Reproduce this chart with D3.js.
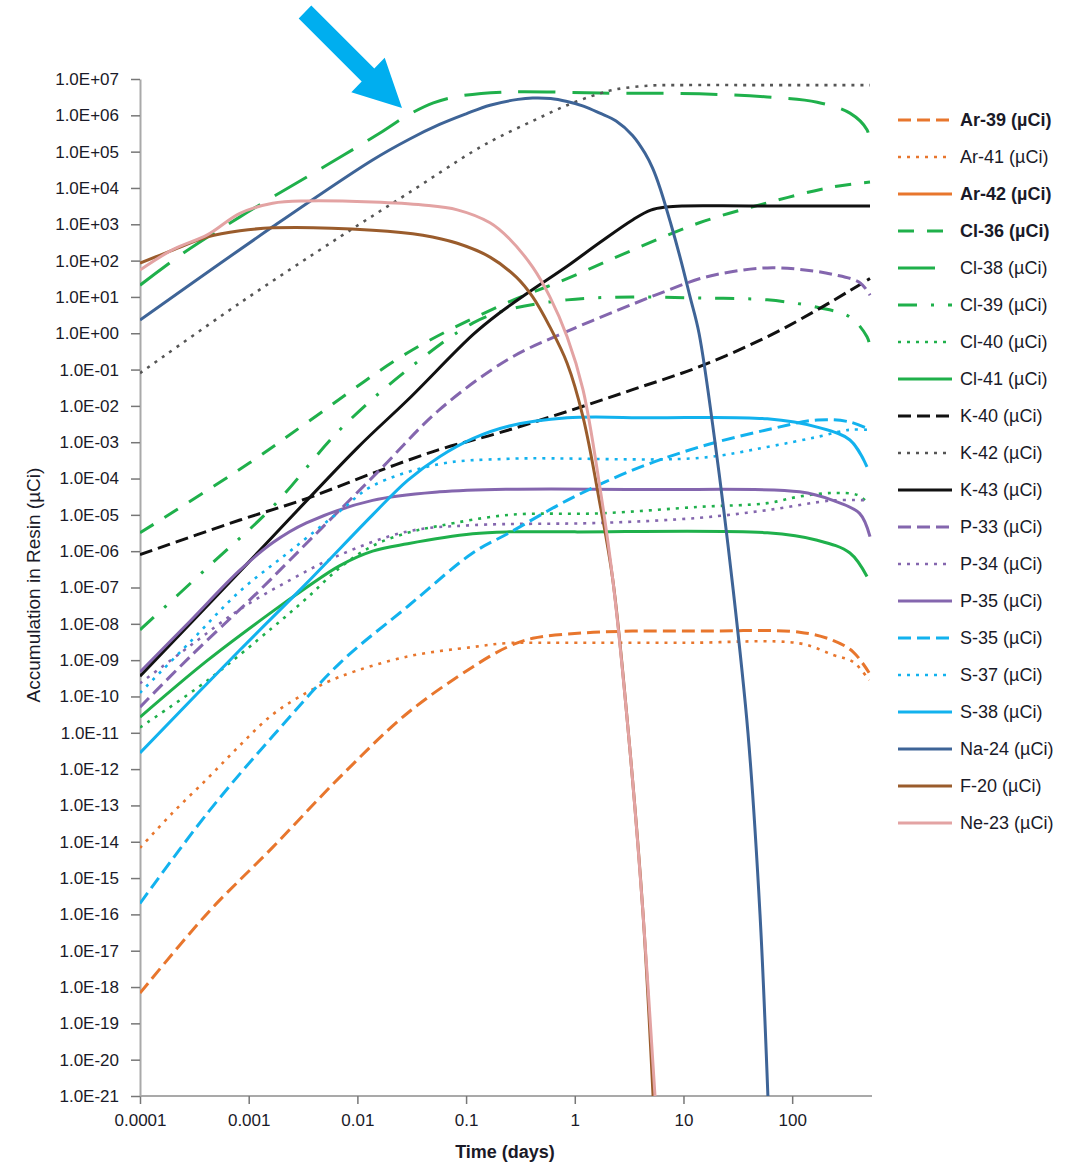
<!DOCTYPE html>
<html>
<head>
<meta charset="utf-8">
<script src="https://cdn.jsdelivr.net/npm/d3@7"></script>
<style>
body { margin: 0; background: #fff; }
text { font-family: "Liberation Sans", Arial, sans-serif; }
</style>
</head>
<body>
<svg id="chart" width="1074" height="1165"></svg>
<script>
// series names, in legend / drawing order
var names = ["Ar-39 (µCi)", "Ar-41 (µCi)", "Ar-42 (µCi)", "Cl-36 (µCi)", "Cl-38 (µCi)",
             "Cl-39 (µCi)", "Cl-40 (µCi)", "Cl-41 (µCi)", "K-40 (µCi)", "K-42 (µCi)",
             "K-43 (µCi)", "P-33 (µCi)", "P-34 (µCi)", "P-35 (µCi)", "S-35 (µCi)",
             "S-37 (µCi)", "S-38 (µCi)", "Na-24 (µCi)", "F-20 (µCi)", "Ne-23 (µCi)"];

// [time (days), accumulation (µCi)]
var ar39 = [[1e-4,6.8e-19],[4.2e-4,1.1e-16],[1.66e-3,7e-15],[6.9e-3,6e-13],[0.029,3.5e-11],[0.115,6.5e-10],
            [0.24,2.3e-9],[0.41,4e-9],[1.19,5.6e-9],[3.4,6.3e-9],[14,6.3e-9],[117,5.9e-9],[237,3.5e-9],[363,1.7e-9],[510,4.5e-10]];
var ar41 = [[1e-4,6.8e-15],[2e-4,6.3e-14],[4.2e-4,5.6e-13],[8.3e-4,4.5e-12],[1.66e-3,3.2e-11],[3.4e-3,1.26e-10],
            [6.9e-3,3.5e-10],[0.029,1.26e-9],[0.115,2.3e-9],[0.24,2.95e-9],[0.59,3e-9],[10,3e-9],[117,2.9e-9],[237,1.4e-9],[363,9e-10],[510,2.8e-10]];
var ar42 = [];
var cl36 = [[1e-4,3.2e-6],[1.02e-3,2.7e-4],[3.4e-3,3.4e-3],[0.029,0.29],[0.2,5.5],[0.85,32],[3.4,195],
            [14,1100],[59,3900],[237,1.07e4],[520,1.45e4]];
var cl38 = [[1e-4,21],[2.5e-4,160],[8.3e-4,1600],[1.66e-3,5600],[5.2e-3,4.2e4],[0.016,3.2e5],[0.029,1.0e6],
            [0.05,2.2e6],[0.083,3.3e6],[0.24,4.4e6],[1.7,4.1e6],[14,3.9e6],[59,3.2e6],[170,2.3e6],[340,1.15e6],[488,4e5],[520,1.7e5]];
var cl39 = [[1e-4,6.8e-9],[4.2e-4,3.6e-7],[1.66e-3,1.66e-5],[6.9e-3,2.2e-3],[0.029,0.1],[0.115,1.9],[0.24,4.4],
            [0.85,8.3],[3.4,10],[14,9.3],[59,8.3],[170,5.2],[340,2.8],[488,0.8],[520,0.42]];
var cl40 = [[1e-4,1.4e-11],[4.2e-4,2.8e-10],[1.66e-3,7.9e-9],[3.4e-3,5e-8],[6.9e-3,3.5e-7],[0.0138,1.4e-6],
            [0.029,3.2e-6],[0.057,5e-6],[0.25,1e-5],[1.7,1.1e-5],[14,1.66e-5],[59,2.1e-5],[117,3.2e-5],[237,4e-5],[400,3.5e-5],[500,2.1e-5]];
var cl41 = [[1e-4,2.7e-11],[4.2e-4,1e-9],[1.66e-3,2.2e-8],[3.4e-3,1e-7],[6.9e-3,4e-7],[0.0138,1e-6],[0.029,1.6e-6],
            [0.115,3e-6],[0.25,3.4e-6],[1,3.4e-6],[59,3.2e-6],[170,2e-6],[340,8.9e-7],[488,2e-7]];
var k40  = [[1e-4,8e-7],[8.3e-4,7.2e-6],[3.4e-3,2.8e-5],[0.0138,1.4e-4],[0.057,6.3e-4],[0.2,1.8e-3],[0.85,7e-3],
            [3.4,0.028],[14,0.12],[59,0.8],[170,4.4],[340,15],[520,32]];
var k42  = [[1e-4,0.08],[8.3e-4,6.8],[6.9e-3,450],[0.029,7e3],[0.115,1e5],[0.2,2.5e5],[0.41,7e5],[0.85,1.9e6],
            [1.7,4e6],[2.4,5.2e6],[5,6.6e6],[10,6.8e6],[40,6.8e6],[520,6.8e6]];
var k43  = [[1e-4,3.6e-10],[1e-3,5e-7],[0.01,7e-4],[0.029,0.0145],[0.115,0.9],[0.2,3.5],[0.41,16],[0.85,70],
            [1.7,316],[3.4,1320],[5,2450],[7,3000],[10,3200],[40,3200],[520,3200]];
var p33  = [[1e-4,5.1e-11],[2.9e-4,1.26e-9],[8.3e-4,2.5e-8],[1.27e-3,8.5e-8],[4.5e-3,3.8e-6],[0.016,1.7e-4],
            [0.057,7.9e-3],[0.25,0.2],[0.85,1.12],[3.4,6.3],[7,14.8],[14,31.6],[28.5,50],[59,63],[117,57.5],[237,41.7],[417,25],[520,11.2]];
var p34  = [[1e-4,2.3e-10],[2.9e-4,2.5e-9],[8.3e-4,2.5e-8],[2.4e-3,1.6e-7],[6.9e-3,7.9e-7],[0.029,3.5e-6],
            [0.115,5.2e-6],[1.7,6e-6],[14,8.3e-6],[59,1.35e-5],[237,2.5e-5],[510,2.5e-5]];
var p35  = [[1e-4,4.7e-10],[2.9e-4,1.2e-8],[8.3e-4,3e-7],[1.66e-3,1.7e-6],[3.4e-3,6e-6],[0.0138,2.5e-5],
            [0.057,4.3e-5],[0.25,5.1e-5],[5,5e-5],[117,4.3e-5],[237,2.5e-5],[417,1.1e-5],[520,2.5e-6]];
var s35  = [[1e-4,2e-16],[4.2e-4,6.3e-14],[1.66e-3,8e-12],[6.9e-3,8.3e-10],[0.029,3e-8],[0.115,8.9e-7],
            [0.25,3.2e-6],[0.85,2.5e-5],[3.4,1.7e-4],[14,7.4e-4],[59,2.2e-3],[170,4.1e-3],[340,3.6e-3],[520,2.2e-3]];
var s37  = [[1e-4,1.26e-10],[2.9e-4,3.2e-9],[8.3e-4,7.9e-8],[2.4e-3,1e-6],[6.9e-3,1.26e-5],[0.0138,6.3e-5],
            [0.057,2.5e-4],[0.25,3.5e-4],[14,3.7e-4],[59,7.4e-4],[170,1.4e-3],[340,2.2e-3],[500,2.2e-3]];
var s38  = [[1e-4,2.8e-12],[8.3e-4,1.9e-9],[3.4e-3,1.3e-7],[0.0138,1e-5],[0.029,8.9e-5],[0.057,4e-4],
            [0.115,1.26e-3],[0.25,2.8e-3],[0.85,4.7e-3],[5,4.7e-3],[59,4.4e-3],[170,2.6e-3],[340,1.15e-3],[488,2.1e-4]];
var na24 = [[1e-4,2.3],[1.66e-3,850],[0.0138,5.9e4],[0.03,2.2e5],[0.057,5.6e5],[0.1,1.1e6],[0.166,1.9e6],
            [0.3,2.75e6],[0.41,3e6],[0.6,2.9e6],[0.85,2.4e6],[1.2,1.8e6],[1.7,1.15e6],[2.4,7e5],[3.4,2.8e5],
            [4.43,9e4],[5.2,3.5e4],[6.08,1e4],[7.67,1e3],[9.48,100],[11.5,10],[13.9,1.0],[19.5,1e-3],[28.5,1e-7],
            [39.2,1e-11],[50.6,1e-16],[59.8,1e-21]];
var f20  = [[1e-4,85],[2e-4,195],[4.2e-4,450],[8.3e-4,660],[1.66e-3,800],[0.0138,690],[0.04,500],[0.083,300],
            [0.166,125],[0.29,35],[0.41,10],[0.59,1.5],[0.85,0.15],[1.19,5e-3],[1.7,2.1e-5],[2.24,1.6e-7],
            [3.2,4e-12],[4.24,1.1e-16],[5.25,1e-21]];
var ne23 = [[1e-4,55],[2e-4,200],[4.2e-4,520],[8.3e-4,2000],[1.66e-3,3800],[3.4e-3,4400],[0.0138,4100],
            [0.04,3400],[0.083,2500],[0.166,1100],[0.25,400],[0.41,66],[0.59,10],[0.85,0.8],[1.19,0.028],
            [1.7,5.9e-5],[2.24,1.6e-7],[3.2,4e-12],[4.24,1.1e-16],[5.47,1e-21]];

var seriesData = [ar39, ar41, ar42, cl36, cl38, cl39, cl40, cl41, k40, k42,
                  k43, p33, p34, p35, s35, s37, s38, na24, f20, ne23];

// axis ticks
var xTicks = [0.0001, 0.001, 0.01, 0.1, 1, 10, 100];
var xTickLabels = ["0.0001", "0.001", "0.01", "0.1", "1", "10", "100"];
var yExponents = d3.range(-21, 8);

// styles (kept apart from the data)
var orange = "#E8762D", green = "#1FB04B", black = "#111111", purple = "#8466AE",
    cyan = "#12B2EE", navy = "#3E6497", brown = "#9A5C2C", pink = "#E3A3A3";
var colors = [orange, orange, orange, green, green, green, green, green, black, "#555",
              black, purple, purple, purple, cyan, cyan, cyan, navy, brown, pink];
var dashed = "13,6", dotted = "3,6";
var dashes = [dashed, dotted, null, "16,13", "37,17", "19,14,3,14", dotted, null, dashed, dotted,
              null, dashed, dotted, null, dashed, dotted, null, null, null, null];
var boldLabel = [true, false, true, true, false, false, false, false, false, false,
                 false, false, false, false, false, false, false, false, false, false];

var margin = {top: 79, right: 204, bottom: 69, left: 140};
var width = 1074 - margin.left - margin.right;
var height = 1165 - margin.top - margin.bottom;

var svg = d3.select("#chart");
var g = svg.append("g").attr("transform", "translate(" + margin.left + "," + margin.top + ")");

var x = d3.scaleLog().domain([1e-4, 520]).range([0, width]);
var y = d3.scaleLog().domain([1e-21, 1e7]).range([height, 0]);

function sci(d) {
    var e = Math.round(Math.log10(d));
    return "1.0E" + (e < 0 ? "-" : "+") + String(Math.abs(e)).padStart(2, "0");
}

var xAxis = g.append("g")
    .attr("transform", "translate(0," + height + ")")
    .call(d3.axisBottom(x).tickValues(xTicks).tickFormat((d, i) => xTickLabels[i])
          .tickSize(8).tickSizeOuter(0).tickPadding(10));
var yAxis = g.append("g")
    .call(d3.axisLeft(y).tickValues(yExponents.map(e => Math.pow(10, e))).tickFormat(sci)
          .tickSize(9).tickSizeOuter(0).tickPadding(12));

[xAxis, yAxis].forEach(function(a) {
    a.select(".domain").attr("stroke", "#A9A9A9").attr("stroke-width", 2);
    a.selectAll(".tick line").attr("stroke", "#777").attr("stroke-width", 1.5);
    a.selectAll(".tick text").attr("fill", "#1a1a28").style("font-size", "17px");
});
xAxis.select(".domain").attr("d", "M0,0H" + (width + 2));

g.append("text")
    .attr("x", 365).attr("y", height + 62)
    .attr("text-anchor", "middle")
    .style("font-size", "18px").style("font-weight", "bold").attr("fill", "#1a1a28")
    .text("Time (days)");

svg.append("text")
    .attr("transform", "translate(40,585) rotate(-90)")
    .attr("text-anchor", "middle")
    .style("font-size", "19px").attr("fill", "#1a1a28")
    .text("Accumulation in Resin (µCi)");

g.append("clipPath").attr("id", "plot-clip")
  .append("rect").attr("x", 0).attr("y", -2).attr("width", width + 2).attr("height", height + 2);

var line = d3.line()
    .x(d => x(d[0]))
    .y(d => y(d[1]))
    .curve(d3.curveCatmullRom.alpha(0.5));

g.append("g").attr("clip-path", "url(#plot-clip)")
  .selectAll("path")
  .data(seriesData)
  .enter()
  .append("path")
  .attr("d", d => d.length ? line(d) : null)
  .attr("fill", "none")
  .attr("stroke", (d, i) => colors[i])
  .attr("stroke-width", (d, i) => dashes[i] === dotted ? 2.6 : 3)
  .attr("stroke-dasharray", (d, i) => dashes[i]);

// legend
var legend = svg.append("g").attr("transform", "translate(898,120)");
var row = legend.selectAll("g")
    .data(names)
    .enter()
    .append("g")
    .attr("transform", (d, i) => "translate(0," + (i * 37) + ")");
row.append("line")
    .attr("x1", 0).attr("x2", 54).attr("y1", 0).attr("y2", 0)
    .attr("stroke", (d, i) => colors[i])
    .attr("stroke-width", (d, i) => dashes[i] === dotted ? 2.6 : 3.2)
    .attr("stroke-dasharray", (d, i) => dashes[i]);
row.append("text")
    .attr("x", 62).attr("y", 0).attr("dy", "0.35em")
    .style("font-size", "18px")
    .style("font-weight", (d, i) => boldLabel[i] ? "bold" : "normal")
    .attr("fill", "#1a1a28")
    .text(d => d);

// annotation arrow
svg.append("path")
    .attr("d", "M298.7,18.5L311.3,5.5L374.3,68.5L384.7,57.8L402,108L351.3,92.2L361.7,81.5Z")
    .attr("fill", "#00AEEF");
</script>
</body>
</html>
